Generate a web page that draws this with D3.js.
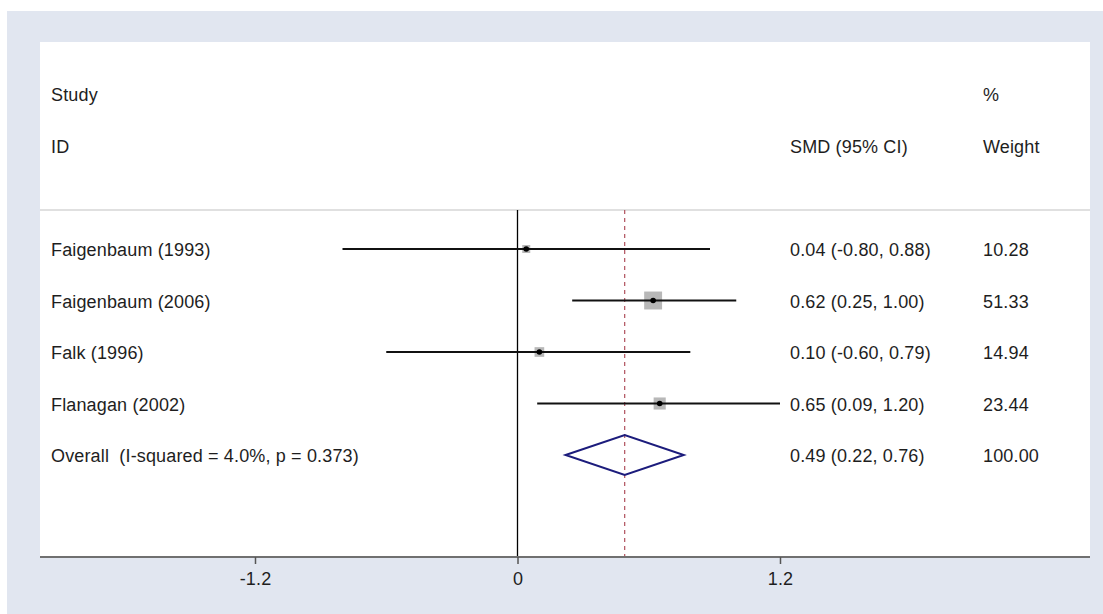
<!DOCTYPE html>
<html><head><meta charset="utf-8">
<script src="https://cdn.jsdelivr.net/npm/d3@7"></script>
<style>body{margin:0;background:#fff}svg{display:block}text{font-family:"Liberation Sans",Arial,sans-serif;fill:#1e1e1e;white-space:pre;letter-spacing:0.15px}</style>
</head><body>
<svg id="c" width="1103" height="614"></svg>
<script>
const studies = ["Faigenbaum (1993)", "Faigenbaum (2006)", "Falk (1996)", "Flanagan (2002)"];
const smd = [0.04, 0.62, 0.10, 0.65];
const lower = [-0.80, 0.25, -0.60, 0.09];
const upper = [0.88, 1.00, 0.79, 1.20];
const weights = [10.28, 51.33, 14.94, 23.44];
const overallLabel = "Overall  (I-squared = 4.0%, p = 0.373)";
const overall = {est: 0.49, lo: 0.22, hi: 0.76, weight: 100.00};
const ticks = [-1.2, 0, 1.2];

(function () {
const svg = d3.select("#c");
const loc = d3.formatLocale({decimal: ".", thousands: ",", grouping: [3], currency: ["", ""], minus: "-"});
const f2 = loc.format(".2f");

svg.append("rect").attr("x", 7).attr("y", 11).attr("width", 1096).attr("height", 603).attr("fill", "#e1e6f0");
svg.append("rect").attr("x", 40).attr("y", 42).attr("width", 1050).attr("height", 515).attr("fill", "#fff");

const x = d3.scaleLinear().domain([-1.2, 1.2]).range([255, 780]);
const rows = studies.concat([overallLabel]);
const y = d3.scalePoint().domain(d3.range(rows.length)).range([249, 455]);
const box = d3.scaleSqrt().domain([0, 100]).range([0, 25]);

const yTop = 210, yBottom = 557;
const fs = 18;

svg.append("line").attr("x1", 40).attr("x2", 1090).attr("y1", yTop).attr("y2", yTop)
  .attr("stroke", "#e0e0e0").attr("stroke-width", 2);

const hdr = [["Study", 51, 101], ["ID", 51, 153], ["SMD (95% CI)", 790, 153], ["%", 983, 101], ["Weight", 983, 153]];
svg.selectAll("text.h").data(hdr).join("text").attr("class", "h")
  .attr("x", d => d[1]).attr("y", d => d[2]).attr("font-size", fs).text(d => d[0]);

svg.append("line").attr("x1", x(0)).attr("x2", x(0)).attr("y1", yTop).attr("y2", yBottom)
  .attr("stroke", "#000").attr("stroke-width", 1.3);
svg.append("line").attr("x1", x(overall.est)).attr("x2", x(overall.est)).attr("y1", yTop).attr("y2", yBottom)
  .attr("stroke", "#b0505c").attr("stroke-width", 1.2).attr("stroke-dasharray", "4,4");

const idx = d3.range(studies.length);
svg.selectAll("rect.box").data(idx).join("rect").attr("class", "box")
  .attr("x", i => x(smd[i]) - box(weights[i]) / 2).attr("y", i => y(i) - box(weights[i]) / 2)
  .attr("width", i => box(weights[i])).attr("height", i => box(weights[i]))
  .attr("fill", "#b8b8b8");
svg.selectAll("line.ci").data(idx).join("line").attr("class", "ci")
  .attr("x1", i => x(lower[i])).attr("x2", i => x(upper[i])).attr("y1", i => y(i)).attr("y2", i => y(i))
  .attr("stroke", "#111").attr("stroke-width", 1.8);
svg.selectAll("circle.pt").data(idx).join("circle").attr("class", "pt")
  .attr("cx", i => x(smd[i])).attr("cy", i => y(i)).attr("r", 2.8).attr("fill", "#000");

const oy = y(4);
svg.append("path")
  .attr("d", `M${x(overall.lo)},${oy} L${x(overall.est)},${oy - 20} L${x(overall.hi)},${oy} L${x(overall.est)},${oy + 20} Z`)
  .attr("fill", "none").attr("stroke", "#1c1c7c").attr("stroke-width", 2);

const ciTexts = idx.map(i => `${f2(smd[i])} (${f2(lower[i])}, ${f2(upper[i])})`)
  .concat([`${f2(overall.est)} (${f2(overall.lo)}, ${f2(overall.hi)})`]);
const wTexts = weights.map(f2).concat([f2(overall.weight)]);
svg.selectAll("text.lab").data(rows).join("text").attr("class", "lab")
  .attr("x", 51).attr("y", (d, i) => y(i) + 7).attr("font-size", fs).text(d => d);
svg.selectAll("text.cit").data(ciTexts).join("text").attr("class", "cit")
  .attr("x", 790).attr("y", (d, i) => y(i) + 7).attr("font-size", fs).text(d => d);
svg.selectAll("text.w").data(wTexts).join("text").attr("class", "w")
  .attr("x", 983).attr("y", (d, i) => y(i) + 7).attr("font-size", fs).text(d => d);

svg.append("line").attr("x1", 40).attr("x2", 1090).attr("y1", yBottom).attr("y2", yBottom)
  .attr("stroke", "#707070").attr("stroke-width", 2);
const ax = svg.append("g").attr("transform", `translate(0,${yBottom})`)
  .call(d3.axisBottom(x).tickValues(ticks).tickFormat(loc.format(".1~f")).tickSize(7).tickPadding(8));
ax.select(".domain").remove();
ax.selectAll(".tick line").attr("stroke", "#555").attr("stroke-width", 1.5);
ax.selectAll(".tick text").attr("font-size", fs).attr("fill", "#1e1e1e")
  .style("font-family", '"Liberation Sans",Arial,sans-serif');
})();
</script>
</body></html>
